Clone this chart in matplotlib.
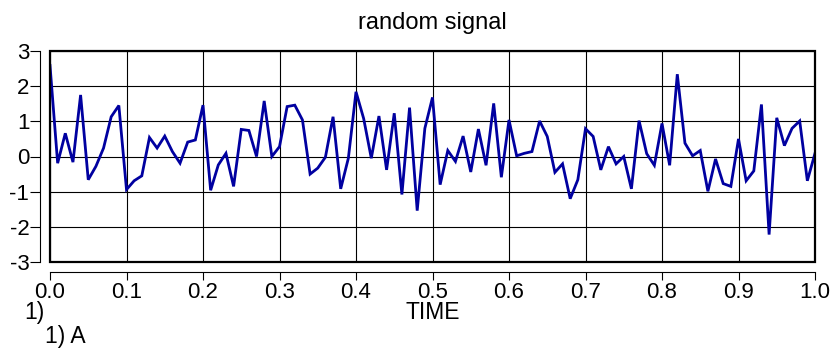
import numpy as np
import matplotlib
matplotlib.use("Agg")
import matplotlib.pyplot as plt
from matplotlib.patches import Rectangle

plt.rcParams['font.family'] = ['Liberation Sans', 'DejaVu Sans']

# ---- data ----
signal = [
    2.59, -0.19, 0.66, -0.16, 1.75, -0.66, -0.28, 0.24, 1.13, 1.45,
    -0.94, -0.69, -0.55, 0.54, 0.24, 0.58, 0.14, -0.19, 0.41, 0.47,
    1.46, -0.96, -0.24, 0.09, -0.85, 0.77, 0.74, 0.00, 1.58, 0.00,
    0.28, 1.42, 1.46, 1.04, -0.50, -0.33, -0.02, 1.13, -0.92, -0.05,
    1.84, 1.08, -0.05, 1.15, -0.38, 1.23, -1.08, 1.39, -1.54, 0.80,
    1.68, -0.80, 0.17, -0.14, 0.58, -0.44, 0.78, -0.25, 1.51, -0.59,
    1.04, 0.02, 0.09, 0.14, 1.01, 0.57, -0.45, -0.21, -1.20, -0.66,
    0.79, 0.57, -0.38, 0.28, -0.21, 0.00, -0.92, 1.02, 0.08, -0.25,
    0.94, -0.25, 2.34, 0.38, 0.02, 0.17, -0.99, -0.07, -0.77, -0.85,
    0.50, -0.69, -0.41, 1.48, -2.22, 1.10, 0.31, 0.80, 1.01, -0.69,
    0.09,
]
time_step = 0.01
time = np.arange(len(signal)) * time_step

x_ticks = [0.0, 0.1, 0.2, 0.3, 0.4, 0.5, 0.6, 0.7, 0.8, 0.9, 1.0]
x_ticklabels = ["0.0", "0.1", "0.2", "0.3", "0.4", "0.5", "0.6", "0.7", "0.8", "0.9", "1.0"]
y_ticks = [-3, -2, -1, 0, 1, 2, 3]
y_ticklabels = ["-3", "-2", "-1", "0", "1", "2", "3"]

title = "random signal"
x_label = "TIME"
panel_label = "1)"
legend_label = "1) A"

# ---- figure ----
W, H = 831, 349
fig = plt.figure(figsize=(W / 100, H / 100), dpi=100)
ax = fig.add_axes([50 / W, 87 / H, 765 / W, 211 / H])

ax.plot(time, signal, color='#0000A0', lw=2.0, solid_joinstyle='miter', zorder=3)

ax.set_xlim(0, 1)
ax.set_ylim(-3, 3)
ax.set_xticks(x_ticks)
ax.set_xticklabels(x_ticklabels)
ax.set_yticks(y_ticks)
ax.set_yticklabels(y_ticklabels)

ax.grid(True, color='black', lw=0.8, zorder=1)

for s in ('top', 'right'):
    ax.spines[s].set_visible(False)
ax.spines['left'].set_position(('outward', 7.2))
ax.spines['bottom'].set_position(('outward', 7.5))
ax.spines['left'].set_linewidth(0.8)
ax.spines['bottom'].set_linewidth(0.8)

ax.add_patch(Rectangle((0, 0), 1, 1, transform=ax.transAxes, fill=False,
                       edgecolor='black', lw=1.6, zorder=4, clip_on=False))

ax.tick_params(axis='y', direction='out', length=7.2, width=0.8, pad=0.5, labelsize=16)
ax.tick_params(axis='x', direction='out', length=5.8, width=0.8, pad=1.0, labelsize=16)

fig.text(432 / W, 1 - 29 / H, title, ha='center', va='baseline', fontsize=17)
fig.text(433 / W, 1 - 319 / H, x_label, ha='center', va='baseline', fontsize=16.5)
fig.text(24 / W, 1 - 319 / H, panel_label, ha='left', va='baseline', fontsize=16.5)
fig.text(45 / W, 1 - 343 / H, legend_label, ha='left', va='baseline', fontsize=16.5)

fig.savefig("out.png", dpi=100)
